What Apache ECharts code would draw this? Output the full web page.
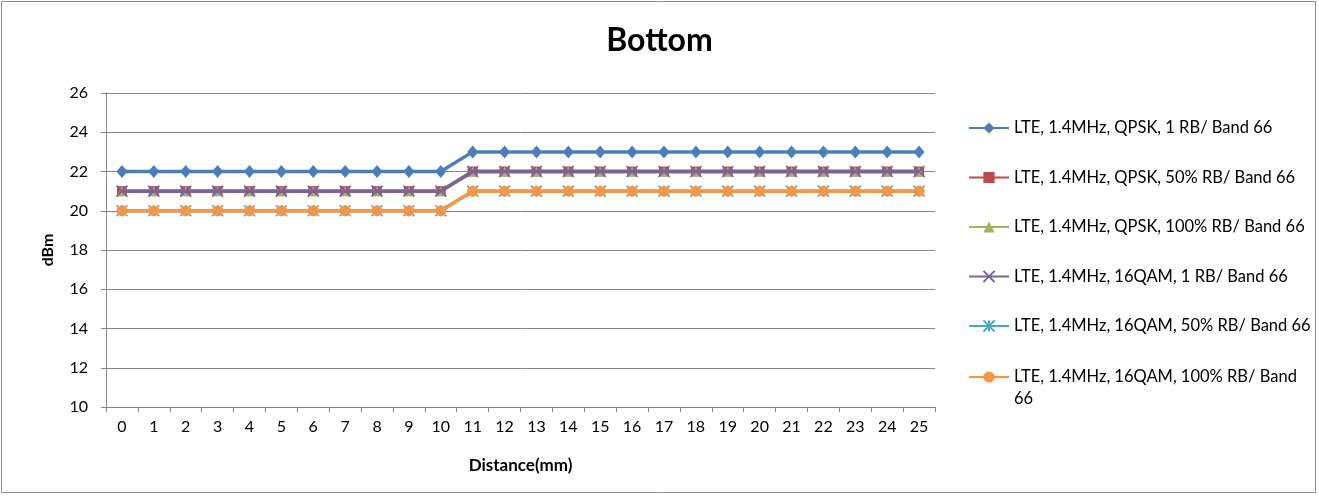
<!DOCTYPE html>
<html>
<head>
<meta charset="utf-8">
<script src="https://cdn.jsdelivr.net/npm/echarts@6/dist/echarts.min.js"></script>
<style>html,body{margin:0;padding:0;background:#fff;}#c{width:1319px;height:496px;}</style>
</head>
<body>
<div id="c"></div>
<script>
const categories = ['0','1','2','3','4','5','6','7','8','9','10','11','12','13','14','15','16','17','18','19','20','21','22','23','24','25'];
const seriesNames = [
  'LTE, 1.4MHz, QPSK, 1 RB/ Band 66',
  'LTE, 1.4MHz, QPSK, 50% RB/ Band 66',
  'LTE, 1.4MHz, QPSK, 100% RB/ Band 66',
  'LTE, 1.4MHz, 16QAM, 1 RB/ Band 66',
  'LTE, 1.4MHz, 16QAM, 50% RB/ Band 66',
  'LTE, 1.4MHz, 16QAM, 100% RB/ Band 66'
];
const qpsk1RB   = [22,22,22,22,22,22,22,22,22,22,22,23,23,23,23,23,23,23,23,23,23,23,23,23,23,23];
const qpsk50RB  = [21,21,21,21,21,21,21,21,21,21,21,22,22,22,22,22,22,22,22,22,22,22,22,22,22,22];
const qpsk100RB = [21,21,21,21,21,21,21,21,21,21,21,22,22,22,22,22,22,22,22,22,22,22,22,22,22,22];
const qam1RB    = [21,21,21,21,21,21,21,21,21,21,21,22,22,22,22,22,22,22,22,22,22,22,22,22,22,22];
const qam50RB   = [20,20,20,20,20,20,20,20,20,20,20,21,21,21,21,21,21,21,21,21,21,21,21,21,21,21];
const qam100RB  = [20,20,20,20,20,20,20,20,20,20,20,21,21,21,21,21,21,21,21,21,21,21,21,21,21,21];
const yTicks = [10,12,14,16,18,20,22,24,26];

const values = [qpsk1RB, qpsk50RB, qpsk100RB, qam1RB, qam50RB, qam100RB];
const colors = ['#4A7EBB','#BE4B48','#98B954','#7D60A0','#46AAC5','#F79646'];
const symbols = [
  'diamond', 'rect', 'triangle',
  'path://M0,0L10,10M10,0L0,10',
  'path://M0,0L10,10M10,0L0,10M5,0L5,10',
  'circle'
];
const sizes = [[11,13], 10, 10, 11, 11, 11];
const FONT = 'Lato, "Open Sans", sans-serif';
const legendText = {fontFamily: FONT, fontSize: 16.5, color: '#000', lineHeight: 22};

const chart = echarts.init(document.getElementById('c'));
chart.setOption({
  animation: false,
  backgroundColor: '#fff',
  graphic: [{
    type: 'rect', z: -10,
    shape: {x: 1.5, y: 1.5, width: 1314, height: 491},
    style: {fill: 'none', stroke: '#8c8c8c', lineWidth: 1}
  }],
  title: {
    text: 'Bottom', left: 'center', top: 20,
    textStyle: {fontFamily: FONT, fontSize: 32, fontWeight: 'bold', color: '#000'}
  },
  legend: [{
    orient: 'vertical', left: 963, top: 112,
    itemWidth: 40, itemHeight: 14, itemGap: 27.5,
    textStyle: legendText,
    data: seriesNames.slice(0, 5)
  }, {
    orient: 'vertical', left: 963, top: 339,
    itemWidth: 40, itemHeight: 14,
    textStyle: legendText,
    formatter: function (n) { return ' \nLTE, 1.4MHz, 16QAM, 100% RB/ Band\n66'; },
    data: seriesNames.slice(5)
  }],
  grid: {left: 106, right: 384, top: 93, bottom: 89},
  xAxis: {
    type: 'category', data: categories, boundaryGap: true,
    name: 'Distance(mm)', nameLocation: 'middle', nameGap: 50,
    nameTextStyle: {fontFamily: FONT, fontSize: 17, fontWeight: 'bold', color: '#000'},
    axisLine: {lineStyle: {color: '#868686'}},
    axisTick: {show: true, length: 5, lineStyle: {color: '#868686'}},
    axisLabel: {fontFamily: FONT, fontSize: 16, color: '#000', margin: 12, interval: 0}
  },
  yAxis: {
    type: 'value', min: 10, max: 26, interval: 2,
    name: 'dBm', nameLocation: 'middle', nameGap: 50, nameRotate: 90,
    nameTextStyle: {fontFamily: FONT, fontSize: 16, fontWeight: 'bold', color: '#000'},
    axisLine: {show: true, lineStyle: {color: '#868686'}},
    axisTick: {show: true, length: 5, lineStyle: {color: '#868686'}},
    axisLabel: {fontFamily: FONT, fontSize: 16, color: '#000', margin: 18,
      formatter: v => yTicks.indexOf(v) >= 0 ? String(v) : ''},
    splitLine: {show: true, lineStyle: {color: '#868686', width: 1}}
  },
  series: seriesNames.map((n, i) => ({
    name: n, type: 'line', data: values[i],
    symbol: symbols[i], symbolSize: sizes[i],
    lineStyle: {color: colors[i], width: 3.5},
    itemStyle: {color: colors[i], borderColor: colors[i], borderWidth: (i === 3 || i === 4) ? 1.5 : 0},
    z: 2 + i
  }))
});
</script>
</body>
</html>
